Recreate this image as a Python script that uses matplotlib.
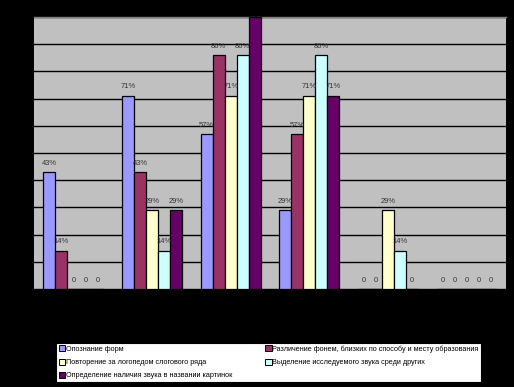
import matplotlib.pyplot as plt
from matplotlib.patches import Patch
import numpy as np

plt.rcParams['font.family'] = ['Liberation Sans', 'DejaVu Sans']

# data (percent)
groups = ["1", "2", "3", "4", "5", "6"]
series_names = [
    "Опознание форм",
    "Различение фонем, близких по способу и месту образования",
    "Повторение за логопедом слогового ряда",
    "Выделение исследуемого звука среди других",
    "Определение наличия звука в названии картинок",
]
s1 = [43, 71, 57, 29, 0, 0]
s2 = [14, 43, 86, 57, 0, 0]
s3 = [0, 29, 71, 71, 29, 0]
s4 = [0, 14, 86, 86, 14, 0]
s5 = [0, 29, 100, 71, 0, 0]
series = [s1, s2, s3, s4, s5]
colors = ["#9999FF", "#993366", "#FFFFCC", "#CCFFFF", "#660066"]

fig = plt.figure(figsize=(5.14, 3.87), dpi=100, facecolor="black")
ax = fig.add_axes([34 / 514, 1 - 289 / 387, 472 / 514, 272 / 387])
ax.set_facecolor("#C0C0C0")

n = len(series)
width = 1 / (n + 1.55)
x = np.arange(len(groups))

for i, vals in enumerate(series):
    pos = x - (n - 1) / 2 * width + i * width
    bars = ax.bar(pos, vals, width, color=colors[i], edgecolor="black",
                  linewidth=0.9, zorder=3)
    for b, v in zip(bars, vals):
        if v >= 100:
            continue
        lbl = "0" if v == 0 else f"{v}%"
        ax.text(b.get_x() + b.get_width() / 2, v + 2, lbl, ha="center",
                va="bottom", fontsize=5.4, color="#333333", zorder=4)

ax.set_xlim(-0.5, len(groups) - 0.5)
ax.set_ylim(0, 100)
ax.set_yticks(np.arange(0, 101, 10))
ax.yaxis.grid(True, color="black", linewidth=1.0, zorder=0)
ax.tick_params(left=False, bottom=False, labelleft=False, labelbottom=False)
for side in ["left", "right", "bottom"]:
    ax.spines[side].set_visible(False)
ax.spines["top"].set_color("#808080")
ax.spines["top"].set_linewidth(1.0)

handles = [Patch(facecolor=c, edgecolor="black", linewidth=0.7) for c in colors]
order = [0, 2, 4, 1, 3]
leg = fig.legend([handles[i] for i in order], [series_names[i] for i in order],
                 ncol=2, loc="lower left",
                 bbox_to_anchor=(56 / 514, 1 - 382 / 387, 425 / 514, 38 / 387),
                 mode="expand", fontsize=5.2, frameon=True, fancybox=False,
                 framealpha=1.0,
                 handlelength=0.9, handleheight=0.9, handletextpad=0.1,
                 borderpad=0.35, labelspacing=0.8, columnspacing=1.0,
                 borderaxespad=0)
leg.get_frame().set_facecolor("white")
leg.get_frame().set_edgecolor("black")
leg.get_frame().set_linewidth(0.8)

fig.savefig("out.png", dpi=100, facecolor="black")
